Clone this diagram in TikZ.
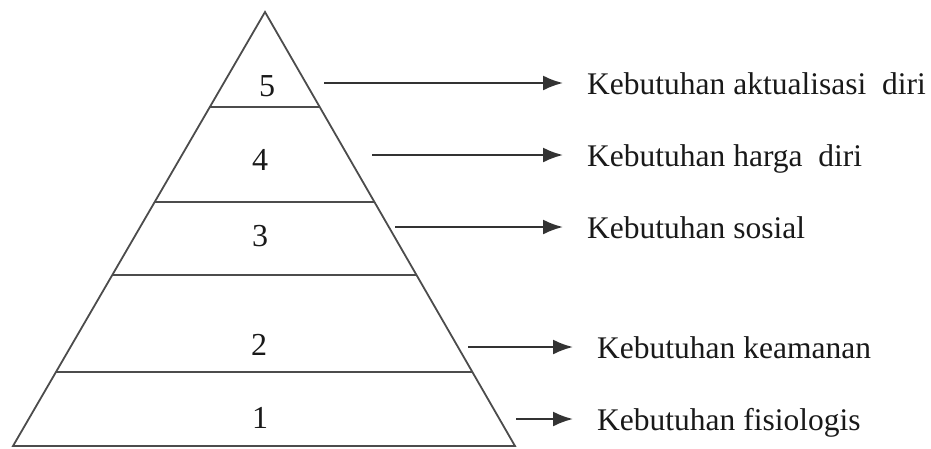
\documentclass[tikz,border=0pt]{standalone}
\usepackage{fontspec}
\setmainfont{Liberation Serif}
\usetikzlibrary{calc, arrows.meta}

\begin{document}
\begin{tikzpicture}[x=1pt, y=-1pt,
		level/.style={line width=1.8pt, draw=black!70},
		pointer/.style={line width=2.2pt, draw=black!80, -{Latex[length=20pt, width=15pt]}},
		need/.style={anchor=west, inner sep=0pt, text height=22pt, text depth=0pt, font=\fontsize{31.5}{36}\selectfont, text=black!90},
		rank/.style={inner sep=0pt, font=\fontsize{32}{36}\selectfont, text=black!90}]
			\useasboundingbox (0,0) rectangle (931,448);

			\coordinate (apex) at (265,12);
			\coordinate (baseL) at (13,446);
			\coordinate (baseR) at (515,446);

			% pyramid
			\begin{scope}
				\draw[level, line join=miter] (baseL) -- (apex) -- (baseR) -- cycle;
				\foreach \y in {107,202,275,372}
				{
					\pgfmathsetmacro\f{(\y-12)/434}
					\draw[level] ($(apex)!\f!(baseL)$) -- ($(apex)!\f!(baseR)$);
				}
			\end{scope}

			% levels
			\begin{scope}
				\foreach \n/\x/\y in {5/267/86,4/260/160,3/260/236,2/259/345,1/260/418}
				{
					\node[rank] (r\n) at (\x,\y) {\n};
				}
			\end{scope}

			% needs
			\begin{scope}
				\foreach \n/\xs/\xt/\y/\txt in {5/324/587/83/Kebutuhan aktualisasi\ \ diri,
					4/372/587/155/Kebutuhan harga\ \ diri,
					3/395/587/227/Kebutuhan sosial,
					2/468/597/347/Kebutuhan keamanan,
					1/516/597/419/Kebutuhan fisiologis}
				{
					\coordinate (s\n) at (\xs,\y);
					\node[need] (n\n) at (\xt,\y) {\txt};
					\draw[pointer] (s\n) -- ([xshift=-24pt]n\n.west);
				}
			\end{scope}
		\end{tikzpicture}
\end{document}
